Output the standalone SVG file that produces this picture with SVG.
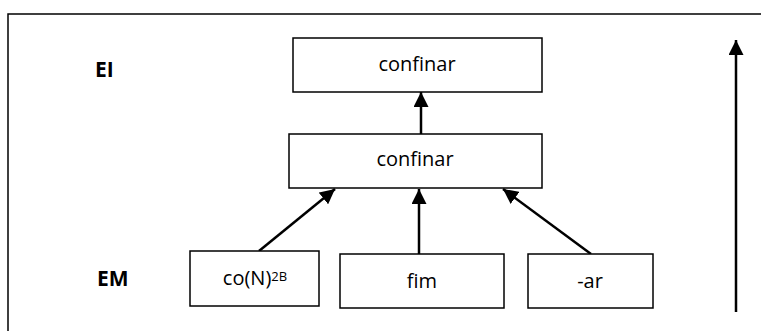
<svg xmlns="http://www.w3.org/2000/svg" width="761" height="331" viewBox="0 0 761 331">
  <style>
    .box { fill: #fff; stroke: #000; stroke-width: 1.5; }
    .lbl { font-family: "Open Sans", "Liberation Sans", sans-serif; font-size: 20px; fill: #000; text-anchor: middle; }
    .lvl { font-family: "Open Sans", "Liberation Sans", sans-serif; font-size: 21px; font-weight: bold; fill: #000; }
    .edge { stroke: #000; stroke-width: 2.5; fill: none; marker-end: url(#head); }
  </style>
  <defs>
    <marker id="head" viewBox="0 0 10 10" refX="10" refY="5" markerWidth="15" markerHeight="15" markerUnits="userSpaceOnUse" orient="auto">
      <path d="M0,0 L10,5 L0,10 z" fill="#000"/>
    </marker>
  </defs>

  <rect width="761" height="331" fill="#fff"/>
  <!-- outer frame, open to the right and bottom -->
  <rect x="8" y="14" width="800" height="400" fill="none" stroke="#000" stroke-width="1.5"/>

  <!-- level labels -->
  <text class="lvl" x="95" y="77">EI</text>
  <text class="lvl" x="97" y="286">EM</text>

  <g id="connectors">
    <line class="edge" x1="421" y1="134" x2="421" y2="92"/>
    <line class="edge" x1="259" y1="251" x2="335" y2="189"/>
    <line class="edge" x1="419" y1="254" x2="419" y2="189"/>
    <line class="edge" x1="591" y1="254" x2="503" y2="189"/>
    <line class="edge" x1="736" y1="312" x2="736" y2="40"/>
  </g>

  <g id="node-top">
    <rect class="box" x="293" y="38" width="249" height="54"/>
    <text class="lbl" x="417" y="71">confinar</text>
  </g>

  <g id="node-mid">
    <rect class="box" x="289" y="134" width="253" height="54"/>
    <text class="lbl" x="415" y="166">confinar</text>
  </g>

  <g id="node-con">
    <rect class="box" x="190" y="251" width="129" height="55"/>
    <text class="lbl" x="255" y="285">co(N)<tspan font-size="13" dy="-4">2B</tspan></text>
  </g>

  <g id="node-fim">
    <rect class="box" x="340" y="254" width="164" height="54"/>
    <text class="lbl" x="422" y="288">fim</text>
  </g>

  <g id="node-ar">
    <rect class="box" x="528" y="254" width="125" height="54"/>
    <text class="lbl" x="590" y="288">-ar</text>
  </g>
</svg>
